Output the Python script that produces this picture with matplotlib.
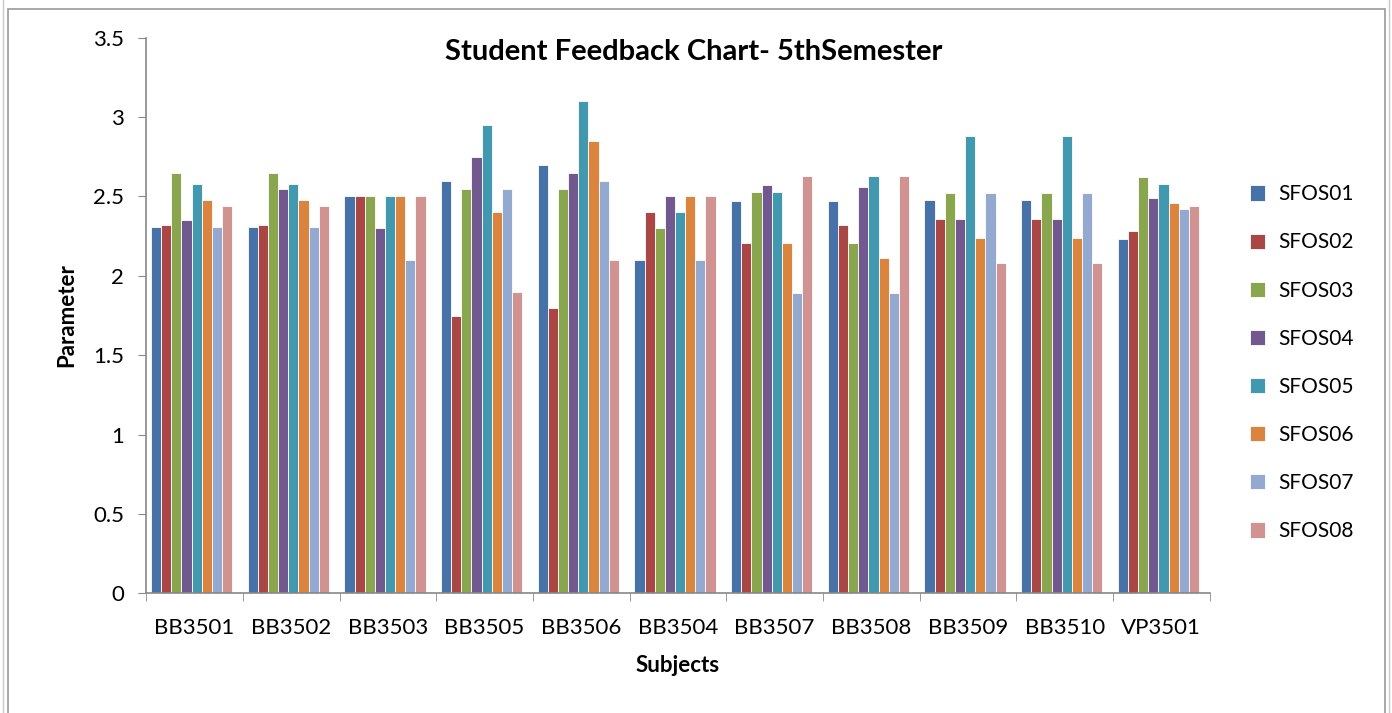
import matplotlib.pyplot as plt
import numpy as np
from matplotlib.patches import Rectangle

# subjects and the eight feedback series
subjects = ["BB3501", "BB3502", "BB3503", "BB3505", "BB3506", "BB3504",
            "BB3507", "BB3508", "BB3509", "BB3510", "VP3501"]
series_names = ["SFOS01", "SFOS02", "SFOS03", "SFOS04",
                "SFOS05", "SFOS06", "SFOS07", "SFOS08"]

sfos01 = [2.31, 2.31, 2.50, 2.60, 2.70, 2.10, 2.47, 2.47, 2.48, 2.48, 2.23]
sfos02 = [2.32, 2.32, 2.50, 1.75, 1.80, 2.40, 2.21, 2.32, 2.36, 2.36, 2.28]
sfos03 = [2.65, 2.65, 2.50, 2.55, 2.55, 2.30, 2.53, 2.21, 2.52, 2.52, 2.62]
sfos04 = [2.35, 2.55, 2.30, 2.75, 2.65, 2.50, 2.57, 2.56, 2.36, 2.36, 2.49]
sfos05 = [2.58, 2.58, 2.50, 2.95, 3.10, 2.40, 2.53, 2.63, 2.88, 2.88, 2.58]
sfos06 = [2.48, 2.48, 2.50, 2.40, 2.85, 2.50, 2.21, 2.11, 2.24, 2.24, 2.46]
sfos07 = [2.31, 2.31, 2.10, 2.55, 2.60, 2.10, 1.89, 1.89, 2.52, 2.52, 2.42]
sfos08 = [2.44, 2.44, 2.50, 1.90, 2.10, 2.50, 2.63, 2.63, 2.08, 2.08, 2.44]
all_series = [sfos01, sfos02, sfos03, sfos04, sfos05, sfos06, sfos07, sfos08]

colors = ["#4672A8", "#AA4644", "#89A54E", "#71588F",
          "#4198AF", "#DB843D", "#93A9CF", "#D19392"]

plt.rcParams['font.family'] = ['Lato', 'DejaVu Sans']

fig = plt.figure(figsize=(13.92, 7.13), dpi=100, facecolor='white')
ax = fig.add_axes([0.105, 0.168, 0.764, 0.779])

x = np.arange(len(subjects))
bw = 0.105
for i, (name, vals) in enumerate(zip(series_names, all_series)):
    offs = (i - 3.5) * bw - 0.03
    ax.bar(x + offs, vals, width=bw, color=colors[i], edgecolor='white',
           linewidth=0.6, label=name, zorder=2)

ax.set_xlim(-0.5, len(subjects) - 0.5)
ax.set_ylim(0, 3.5)
ax.set_yticks(np.arange(0, 3.51, 0.5))
ax.set_yticklabels(["0", "0.5", "1", "1.5", "2", "2.5", "3", "3.5"])
ax.set_xticks(x)
ax.set_xticklabels(subjects)
ax.set_xticks(np.arange(-0.5, len(subjects), 1), minor=True)
ax.tick_params(axis='x', which='major', length=0, pad=18, labelsize=16)
ax.tick_params(axis='x', which='minor', length=6, color='#888888', direction='out')
ax.tick_params(axis='y', length=6, color='#888888', labelsize=16, pad=10)

for s in ['top', 'right']:
    ax.spines[s].set_visible(False)
for s in ['left', 'bottom']:
    ax.spines[s].set_color('#888888')
    ax.spines[s].set_linewidth(1.2)

ax.set_title("Student Feedback Chart- 5thSemester", fontsize=21,
             fontweight='bold', x=0.515, y=0.96, va='center')
ax.set_ylabel("Parameter", fontsize=16, fontweight='bold', labelpad=11)
ax.set_xlabel("Subjects", fontsize=16, fontweight='bold', labelpad=12)

leg = ax.legend(loc='center left', bbox_to_anchor=(1.02, 0.415), frameon=False,
                fontsize=15, handlelength=0.75, handleheight=0.75,
                labelspacing=1.35, handletextpad=0.6)

# page-like frame around the chart
fig.patches.append(Rectangle((0.006, -0.01), 0.989, 0.997, transform=fig.transFigure,
                             fill=False, edgecolor='#9a9a9a', linewidth=1.2))
fig.patches.append(Rectangle((0.002, -0.01), 0.996, 1.2, transform=fig.transFigure,
                             fill=False, edgecolor='#c8c8c8', linewidth=1.0))

fig.savefig("out.png", dpi=100, facecolor='white')
